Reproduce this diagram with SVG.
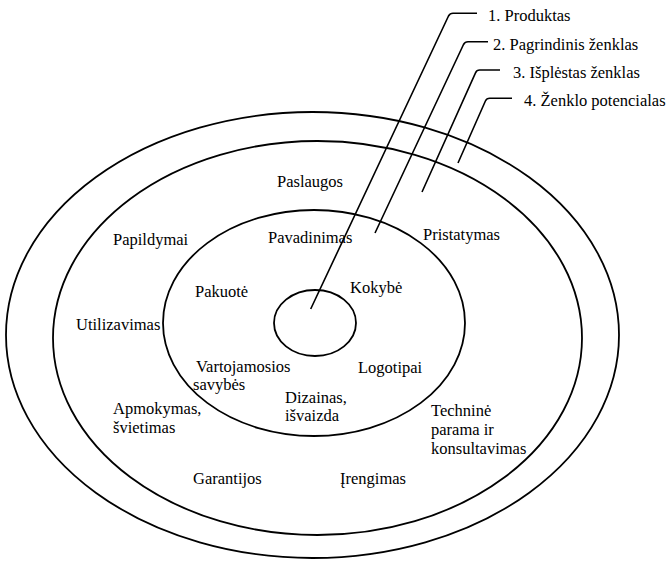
<svg xmlns="http://www.w3.org/2000/svg" width="669" height="561" viewBox="0 0 669 561">
<style>
.ring{fill:none;stroke:#000;stroke-width:1.8}
.conn{fill:none;stroke:#000;stroke-width:1.6;stroke-linejoin:round}
text{font-family:"Liberation Serif","Times New Roman",serif;font-size:16.5px;fill:#000}
</style>
<rect width="669" height="561" fill="#fff"/>
<g id="ring-potential">
<ellipse class="ring" cx="312.5" cy="335" rx="306.5" ry="223"/>
</g>
<g id="ring-extended">
<ellipse class="ring" cx="317.5" cy="338" rx="264.5" ry="197"/>
<text x="277" y="187">Paslaugos</text>
<text x="113" y="245">Papildymai</text>
<text x="423" y="240">Pristatymas</text>
<text x="76" y="330">Utilizavimas</text>
<text x="113" y="414">Apmokymas,</text>
<text x="113" y="433">švietimas</text>
<text x="431" y="416">Techninė</text>
<text x="431" y="435">parama ir</text>
<text x="431" y="454">konsultavimas</text>
<text x="193" y="484">Garantijos</text>
<text x="340" y="484">Įrengimas</text>
</g>
<g id="ring-core">
<ellipse class="ring" cx="314" cy="323" rx="151" ry="113"/>
<text x="268" y="243">Pavadinimas</text>
<text x="350" y="293">Kokybė</text>
<text x="195" y="297">Pakuotė</text>
<text x="196" y="372">Vartojamosios</text>
<text x="193" y="390">savybės</text>
<text x="358" y="373">Logotipai</text>
<text x="285" y="403">Dizainas,</text>
<text x="285" y="421">išvaizda</text>
</g>
<g id="ring-product">
<ellipse class="ring" cx="315" cy="323" rx="41" ry="33"/>
</g>
<g id="connectors">
<path class="conn" d="M310.7,309 L448.5,16 Q450,13.3 453,13.3 L477,13.3"/>
<path class="conn" d="M375,233 L463.5,44.5 Q465,41.7 468,41.7 L488,41.7"/>
<path class="conn" d="M422,192 L475.5,72.8 Q476.7,70 479.7,70 L500,70"/>
<path class="conn" d="M458,163 L485.4,101 Q486.7,98.3 489.7,98.3 L512,98.3"/>
</g>
<g id="labels">
<text x="488" y="21">1. Produktas</text>
<text x="493" y="50">2. Pagrindinis ženklas</text>
<text x="513" y="78">3. Išplėstas ženklas</text>
<text x="524" y="106">4. Ženklo potencialas</text>
</g>
</svg>
